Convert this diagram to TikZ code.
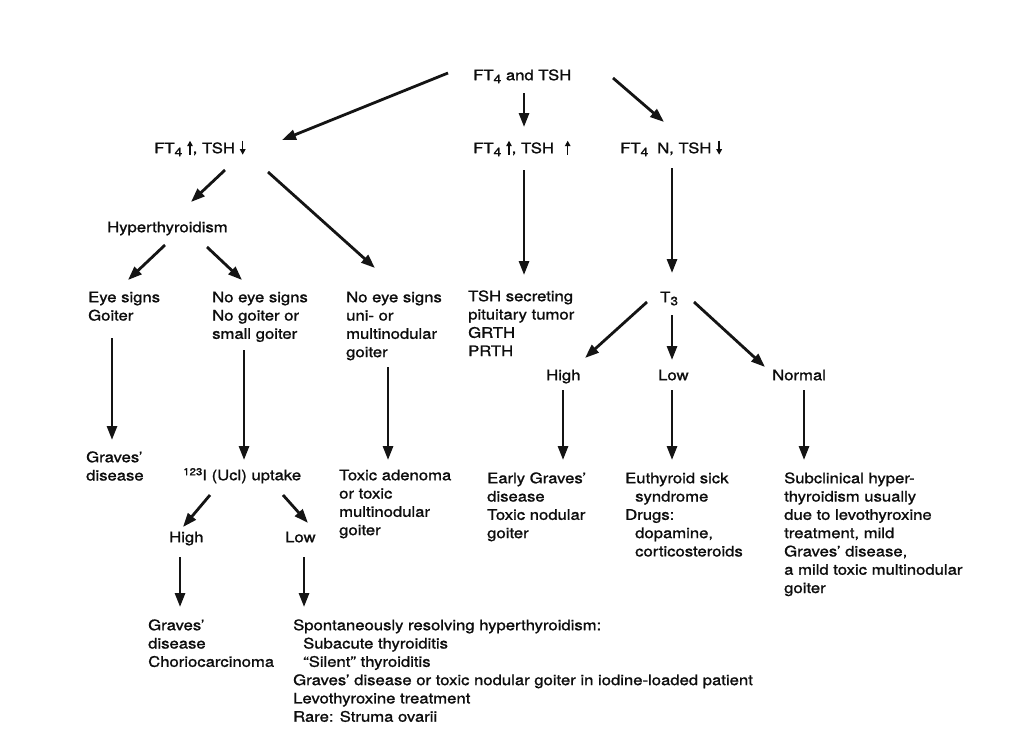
\documentclass[tikz,border=0pt]{standalone}
\usepackage{fontspec}
\setmainfont[FakeStretch=1.15,FakeBold=1.2]{TeX Gyre Heros}
\usetikzlibrary{arrows.meta,calc}
\newcommand\lowidx[1]{\raisebox{-3pt}{\fontsize{12}{12}\selectfont #1}}
\newcommand\uparr{\smash{\tikz[baseline=0pt]\draw[line width=1.5pt,-{Triangle[length=5.5pt,width=5.5pt]}] (0pt,-1.5pt)--(0pt,12.5pt);}}
\newcommand\dnarr{\smash{\tikz[baseline=0pt]\draw[line width=1.5pt,-{Triangle[length=5.5pt,width=5.5pt]}] (0pt,12.5pt)--(0pt,-1.5pt);}}
\newcommand\zs{\rule{0pt}{12pt}}
\begin{document}
\begin{tikzpicture}[x=1pt,y=-1pt,
  lbl/.style={anchor=north west,inner sep=0pt,align=left,font=\fontsize{14.5}{18.3}\selectfont,text=black!95},
  arr/.style={line width=2.8pt,-{Triangle[length=14pt,width=10pt]},draw=black!92}]
\useasboundingbox[fill=white] (0,0) rectangle (1014,729);
% nodes
\node[lbl] (top) at (473,68) {\zs FT\lowidx4 and TSH};
\node[lbl] (l1) at (154,141) {\zs FT\lowidx4\hspace{5pt}\uparr, TSH\hspace{5pt}\dnarr};
\node[lbl] (m1) at (473,141) {\zs FT\lowidx4\hspace{5pt}\uparr, TSH\hspace{11pt}\uparr};
\node[lbl] (r1) at (620,141) {\zs FT\lowidx4\hspace{9pt}N, TSH\hspace{5pt}\dnarr};
\node[lbl] (hyp) at (107,220) {\zs Hyperthyroidism};
\node[lbl] (eye) at (88,290) {\zs Eye signs\\Goiter};
\node[lbl] (ne1) at (212,290) {\zs No eye signs\\No goiter or\\small goiter};
\node[lbl] (ne2) at (346,290) {\zs No eye signs\\uni- or\\multinodular\\goiter};
\node[lbl] (tshs) at (468,289) {\zs TSH secreting\\pituitary tumor\\GRTH\\PRTH};
\node[lbl] (t3) at (660,290) {\zs T\lowidx3};
\node[lbl] (hi) at (546,368) {\zs High};
\node[lbl] (lo) at (658,368) {\zs Low};
\node[lbl] (nm) at (772,368) {\zs Normal};
\node[lbl] (gd1) at (86,450) {\zs Graves'\\disease};
\node[lbl] (upt) at (183,468) {\zs\smash{\raisebox{5pt}{\fontsize{10}{10}\selectfont 123}}I (Ucl) uptake};
\node[lbl] (tox) at (339,468) {\zs Toxic adenoma\\or toxic\\multinodular\\goiter};
\node[lbl] (egd) at (487,471) {\zs Early Graves'\\disease\\Toxic nodular\\goiter};
\node[lbl] (eut) at (625,471) {\zs Euthyroid sick\\\hspace*{10pt}syndrome\\Drugs:\\\hspace*{10pt}dopamine,\\\hspace*{10pt}corticosteroids};
\node[lbl] (sub) at (784,471) {\zs Subclinical hyper-\\thyroidism usually\\due to levothyroxine\\treatment, mild\\Graves' disease,\\a mild toxic multinodular\\goiter};
\node[lbl] (hi2) at (169,530) {\zs High};
\node[lbl] (lo2) at (285,530) {\zs Low};
\node[lbl] (gd2) at (148,618) {\zs Graves'\\disease\\Choriocarcinoma};
\node[lbl] (spon) at (293,618) {\zs Spontaneously resolving hyperthyroidism:\\\hspace*{10pt}Subacute thyroiditis\\\hspace*{10pt}``Silent'' thyroiditis\\Graves' disease or toxic nodular goiter in iodine-loaded patient\\Levothyroxine treatment\\Rare: Struma ovarii};
% connectors
\draw[arr] ($(top.north west)+(-25,5)$) -- ($(l1.north west)+(128,-1)$);
\draw[arr] ($(top.north west)+(51,25)$) -- ($(m1.north west)+(51,-14)$);
\draw[arr] ($(top.north west)+(140,10)$) -- ($(r1.north west)+(44,-19)$);
\draw[arr] ($(l1.north west)+(71,29)$) -- ($(hyp.north west)+(84,-18)$);
\draw[arr] ($(l1.north west)+(114,31)$) -- ($(ne2.north west)+(29,-22)$);
\draw[arr] ($(m1.north west)+(51,29)$) -- ($(tshs.north west)+(56,-14)$);
\draw[arr] ($(r1.north west)+(52,27)$) -- ($(t3.north west)+(12,-17)$);
\draw[arr] ($(hyp.north west)+(58,25)$) -- ($(eye.north west)+(40,-10)$);
\draw[arr] ($(hyp.north west)+(100,27)$) -- ($(ne1.north west)+(30,-10)$);
\draw[arr] ($(eye.north west)+(24,48)$) -- ($(gd1.north west)+(26,-10)$);
\draw[arr] ($(ne1.north west)+(32,60)$) -- ($(upt.north west)+(61,-8)$);
\draw[arr] ($(ne2.north west)+(42,77)$) -- ($(tox.north west)+(49,-8)$);
\draw[arr] ($(t3.north west)+(-13,12)$) -- ($(hi.north west)+(39,-10)$);
\draw[arr] ($(t3.north west)+(12,25)$) -- ($(lo.north west)+(14,-8)$);
\draw[arr] ($(t3.north west)+(34,12)$) -- ($(nm.north west)+(-7,-1)$);
\draw[arr] ($(hi.north west)+(17,22)$) -- ($(egd.north west)+(76,-11)$);
\draw[arr] ($(lo.north west)+(14,22)$) -- ($(eut.north west)+(47,-11)$);
\draw[arr] ($(nm.north west)+(32,22)$) -- ($(sub.north west)+(20,-11)$);
\draw[arr] ($(upt.north west)+(27,27)$) -- ($(hi2.north west)+(14,-3)$);
\draw[arr] ($(upt.north west)+(100,27)$) -- ($(lo2.north west)+(23,-7)$);
\draw[arr] ($(hi2.north west)+(11,27)$) -- ($(gd2.north west)+(32,-11)$);
\draw[arr] ($(lo2.north west)+(19,27)$) -- ($(spon.north west)+(11,-11)$);
\end{tikzpicture}
\end{document}
